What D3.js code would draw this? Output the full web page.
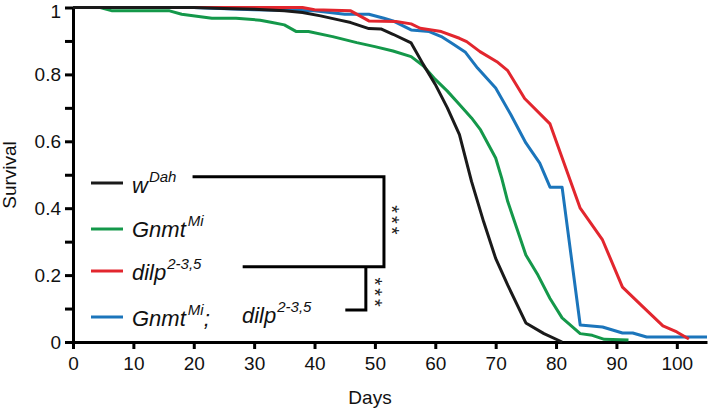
<!DOCTYPE html>
<html><head><meta charset="utf-8">
<script src="https://cdn.jsdelivr.net/npm/d3@7"></script>
<style>body{margin:0;background:#fff}svg text{font-family:"Liberation Sans",Arial,sans-serif}</style>
</head><body><svg id="c" width="709" height="411"></svg>
<script>
// ---- data (day, survival) ----
const wDah = [[0,1],[10,1],[20,1],[25,0.997],[30,0.995],[35,0.99],[38,0.985],[41,0.975],[44,0.963],[46,0.955],[49,0.937],[51,0.936],[53,0.92],[56,0.894],[58,0.83],[60,0.77],[62,0.7],[64,0.62],[66,0.48],[68,0.36],[70,0.25],[72,0.17],[75,0.057],[78,0.025],[81,0]];
const gnmt = [[0,1],[4.5,1],[6.5,0.99],[16,0.99],[18,0.98],[23,0.968],[27,0.968],[31,0.962],[33,0.955],[35,0.948],[37,0.928],[39,0.928],[43,0.913],[47,0.895],[50,0.883],[53,0.87],[56,0.853],[58,0.826],[60,0.785],[62,0.75],[64,0.71],[66,0.67],[67.5,0.634],[70,0.55],[71,0.49],[72,0.42],[73.5,0.34],[75,0.26],[77,0.2],[79,0.13],[81,0.072],[84,0.025],[86,0.02],[88,0.008],[92,0.006]];
const dilp = [[0,1],[38,1],[40,0.993],[46,0.99],[49,0.96],[53.5,0.958],[56,0.951],[57.5,0.938],[61,0.928],[64,0.908],[65.2,0.898],[67.4,0.868],[70.2,0.838],[72,0.811],[74.8,0.728],[79,0.652],[84,0.40],[87.7,0.305],[91,0.164],[94.4,0.105],[97.7,0.048],[100,0.03],[102,0.009]];
const gnmtDilp = [[0,1],[20,1],[30,0.993],[40,0.99],[45,0.98],[49,0.98],[51.5,0.968],[53,0.96],[56,0.933],[59,0.928],[61,0.913],[63,0.89],[65,0.866],[67,0.819],[70,0.759],[72.5,0.68],[75,0.595],[77.3,0.535],[79,0.463],[81,0.463],[84,0.051],[87.7,0.045],[91,0.027],[92.7,0.027],[95,0.015],[105,0.015]];
const xTicks = [0,10,20,30,40,50,60,70,80,90,100];
const yTicks = [0,0.2,0.4,0.6,0.8,1];
const yMinor = [0.1,0.3,0.5,0.7,0.9];
const yTickLabels = ["0","0.2","0.4","0.6","0.8","1"];
const colors = {w:"#1a1a1a", g:"#14984a", r:"#e2262e", b:"#1b75bb"};

const svg = d3.select("#c");
const x = d3.scaleLinear().domain([0,105]).range([73,707]);
const y = d3.scaleLinear().domain([0,1]).range([342,7.5]);

// axes
svg.append("g").attr("transform","translate(0,342)")
  .call(d3.axisBottom(x).tickValues(xTicks).tickSize(7).tickSizeOuter(0).tickPadding(8));
svg.append("g").attr("transform","translate(73,0)")
  .call(d3.axisLeft(y).tickValues(yTicks).tickFormat((d,i)=>yTickLabels[i]).tickSize(8).tickSizeOuter(0).tickPadding(4));
svg.append("g").attr("transform","translate(73,0)")
  .call(d3.axisLeft(y).tickValues(yMinor).tickFormat("").tickSize(8).tickSizeOuter(0))
  .select(".domain").remove();
svg.selectAll(".domain").attr("stroke","#000").attr("stroke-width",3);
svg.selectAll(".tick line").attr("stroke","#000").attr("stroke-width",3);
svg.selectAll(".tick text").attr("font-size",19).attr("fill","#111").attr("font-family","Liberation Sans, Arial, sans-serif");
svg.selectAll(".tick text").filter(d=>d===1).attr("dy","0.53em");

// labels
svg.append("text").attr("x",370).attr("y",404).attr("text-anchor","middle").attr("font-size",19).attr("fill","#111").text("Days");
svg.append("text").attr("transform","translate(16,175) rotate(-90)").attr("text-anchor","middle").attr("font-size",19).attr("fill","#111").text("Survival");

// lines
const line = d3.line().x(d=>x(d[0])).y(d=>y(d[1]));
const series = [[gnmt,colors.g],[gnmtDilp,colors.b],[dilp,colors.r],[wDah,colors.w]];
series.forEach(([d,c])=>{
  svg.append("path").datum(d).attr("d",line).attr("fill","none").attr("stroke",c).attr("stroke-width",3).attr("stroke-linejoin","round");
});

// legend
const leg = svg.append("g").attr("font-style","italic").attr("fill","#111");
function row(ly, base, color, parts){
  svg.append("line").attr("x1",91).attr("x2",123).attr("y1",ly).attr("y2",ly).attr("stroke",color).attr("stroke-width",3);
  const t = leg.append("text").attr("x",132).attr("y",base).attr("font-size",22);
  parts.forEach(p=>{
    const s = t.append("tspan").text(p.t);
    if(p.sup){ s.attr("font-size",15).attr("dy",-11); }
    else if(p.down){ s.attr("dy",11); }
    if(p.dx) s.attr("dx",p.dx);
  });
}
row(183,193,colors.w,[{t:"w"},{t:"Dah",sup:1,dx:1}]);
row(229,237,colors.g,[{t:"Gnmt"},{t:"Mi",sup:1,dx:2}]);
row(271,280,colors.r,[{t:"dilp"},{t:"2-3,5",sup:1,dx:1}]);
row(317,326,colors.b,[{t:"Gnmt"},{t:"Mi",sup:1,dx:2},{t:";",down:1}]);
leg.append("text").attr("x",242).attr("y",323).attr("font-size",22)
  .call(t=>{t.append("tspan").text("dilp");t.append("tspan").text("2-3,5").attr("font-size",15).attr("dy",-11).attr("dx",1);});

// significance brackets (in data units)
const br1 = [[19.8,0.494],[51.5,0.494],[51.5,0.225],[28.1,0.225]];
const br2 = [[48.5,0.225],[48.5,0.096],[45.1,0.096]];
[br1,br2].forEach(b=>svg.append("path").datum(b).attr("d",line).attr("fill","none").attr("stroke","#000").attr("stroke-width",3));
const starGroups = [[53.5,0.365],[50.7,0.149]];
starGroups.forEach(s=>{
  svg.append("text").attr("transform",`translate(${x(s[0])},${y(s[1])}) rotate(90)`)
    .attr("x",1.5).attr("y",11).attr("text-anchor","middle").attr("font-size",20)
    .attr("letter-spacing",3).attr("fill","#222").text("***");
});
</script></body></html>
